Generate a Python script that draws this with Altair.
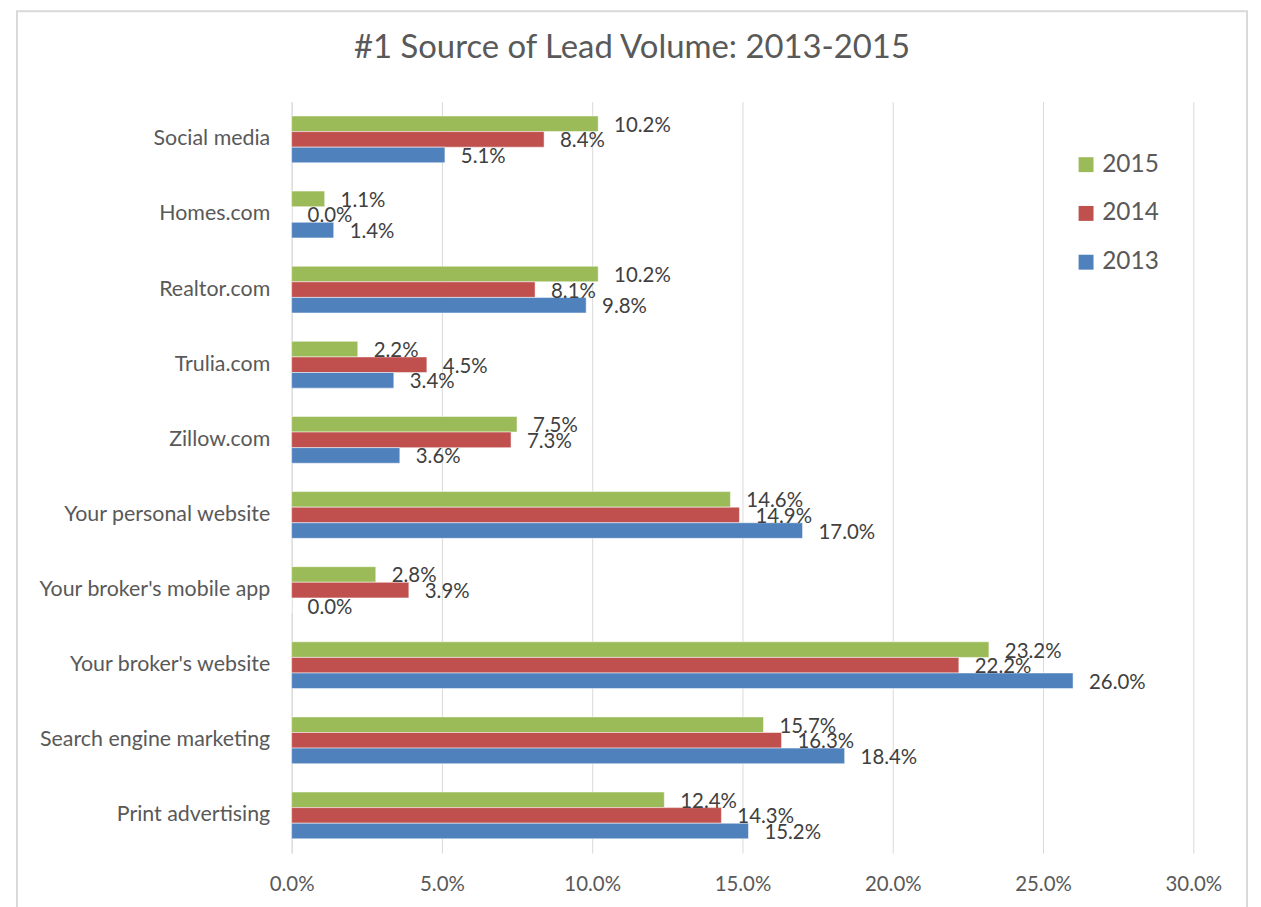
import altair as alt
import pandas as pd

title_text = "#1 Source of Lead Volume: 2013-2015"
categories = ["Social media", "Homes.com", "Realtor.com", "Trulia.com", "Zillow.com",
              "Your personal website", "Your broker's mobile app", "Your broker's website",
              "Search engine marketing", "Print advertising"]
series = ["2015", "2014", "2013"]
v2015 = [10.2, 1.1, 10.2, 2.2, 7.5, 14.6, 2.8, 23.2, 15.7, 12.4]
v2014 = [8.4, 0.0, 8.1, 4.5, 7.3, 14.9, 3.9, 22.2, 16.3, 14.3]
v2013 = [5.1, 1.4, 9.8, 3.4, 3.6, 17.0, 0.0, 26.0, 18.4, 15.2]
colors = ["#9BBB59", "#C0504D", "#4F81BD"]
x_ticks = [0, 0.05, 0.10, 0.15, 0.20, 0.25, 0.30]

rows = []
for yr, vals in zip(series, [v2015, v2014, v2013]):
    for c, v in zip(categories, vals):
        rows.append({"Source": c, "Year": yr, "Value": v / 100.0})
df = pd.DataFrame(rows)

FONT = "Lato"

y_enc = alt.Y("Source:N", sort=categories, title=None,
              scale=alt.Scale(paddingInner=0.377, paddingOuter=0.19),
              axis=alt.Axis(ticks=False, domain=True, domainColor="#d9d9d9",
                            labelPadding=22, labelFontSize=21.5, labelColor="#595959",
                            labelFont=FONT, labelLimit=400))
yoff_enc = alt.YOffset("Year:N", sort=series, scale=alt.Scale(paddingInner=0, paddingOuter=0))

base = alt.Chart(df)

bars = base.mark_bar(stroke="white", strokeWidth=0.5).encode(
    y=y_enc,
    yOffset=yoff_enc,
    x=alt.X("Value:Q", title=None,
            scale=alt.Scale(domain=[0, 0.30], nice=False),
            axis=alt.Axis(values=x_ticks, format=".1%", grid=True, gridColor="#d9d9d9",
                          domain=False, ticks=False, labelPadding=22, labelFontSize=20.5,
                          labelColor="#595959", labelFont=FONT, labelFlush=False)),
    color=alt.Color("Year:N", sort=series,
                    scale=alt.Scale(domain=series, range=colors),
                    legend=alt.Legend(title=None, orient="none", legendX=786, legendY=51,
                                      symbolType="square", symbolSize=225,
                                      symbolStrokeWidth=0,
                                      labelFontSize=24.5, labelColor="#595959",
                                      labelFont=FONT, rowPadding=24, labelOffset=4)),
)

labels = base.mark_text(align="left", baseline="middle", dx=16, dy=2,
                        fontSize=20.5, color="#404040", font=FONT).encode(
    y=alt.Y("Source:N", sort=categories),
    yOffset=yoff_enc,
    x=alt.X("Value:Q"),
    text=alt.Text("Value:Q", format=".1%"),
)

one = alt.Data(values=[{"t": title_text}])

frame = alt.Chart(one).mark_rect(
    fillOpacity=0, stroke="#d9d9d9", strokeWidth=2).encode(
    x=alt.value(-276), x2=alt.value(960), y=alt.value(-91), y2=alt.value(820))

title = alt.Chart(one).mark_text(
    align="center", baseline="middle", fontSize=33, font=FONT, color="#595959").encode(
    x=alt.value(342), y=alt.value(-54), text="t:N")

chart = alt.layer(frame, bars, labels, title).properties(
    width=906, height=755,
    padding={"left": 285, "top": 92, "right": 60, "bottom": 52},
    autosize=alt.AutoSizeParams(type="none"),
).configure_view(stroke=None)

chart.save("out.html", embed_options={"renderer": "svg", "actions": False})
